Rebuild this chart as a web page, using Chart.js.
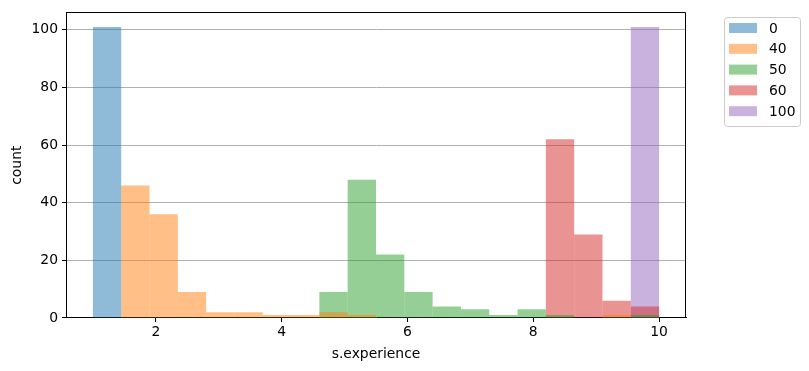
<!DOCTYPE html>
<html>
<head>
<meta charset="utf-8">
<script src="https://cdn.jsdelivr.net/npm/chart.js@4/dist/chart.umd.min.js"></script>
<style>
  body { margin: 0; background: #fff; }
  #wrap { width: 809px; height: 371px; }
</style>
</head>
<body>
<div id="wrap"><canvas id="histChart" width="809" height="371"></canvas></div>
<script>
// bin centres (20 bins of width 0.45 from 1 to 10)
const binCenters = [1.225,1.675,2.125,2.575,3.025,3.475,3.925,4.375,4.825,5.275,
                    5.725,6.175,6.625,7.075,7.525,7.975,8.425,8.875,9.325,9.775];
const seriesNames = ["0","40","50","60","100"];
const counts0   = [101,0,0,0,0,0,0,0,0,0,0,0,0,0,0,0,0,0,0,0];
const counts40  = [0,46,36,9,2,2,1,1,2,1,0,0,0,0,0,0,0,0,1,0];
const counts50  = [0,0,0,0,0,0,0,0,9,48,22,9,4,3,1,3,1,0,0,1];
const counts60  = [0,0,0,0,0,0,0,0,0,0,0,0,0,0,0,0,62,29,6,4];
const counts100 = [0,0,0,0,0,0,0,0,0,0,0,0,0,0,0,0,0,0,0,101];
const xTicks = [2,4,6,8,10];
const yTicks = [0,20,40,60,80,100];
const colors = ["rgba(31,119,180,0.5)","rgba(255,127,14,0.5)","rgba(44,160,44,0.5)",
                "rgba(214,39,40,0.5)","rgba(148,103,189,0.5)"];

const allCounts = [counts0, counts40, counts50, counts60, counts100];
const FONT = "DejaVu Sans";

const datasets = allCounts.map((c, i) => ({
  label: seriesNames[i],
  data: binCenters.map((x, j) => ({ x: x, y: c[j] })),
  backgroundColor: colors[i],
  borderWidth: 0,
  inflateAmount: 0,
  grouped: false,
  barPercentage: 1,
  categoryPercentage: 1
}));

const frameLegend = {
  id: "frameLegend",
  afterDraw(chart) {
    const ctx = chart.ctx, a = chart.chartArea;
    ctx.save();
    ctx.strokeStyle = "#000";
    ctx.lineWidth = 1;
    ctx.beginPath();
    ctx.moveTo(Math.round(a.left) + 0.5, Math.round(a.top) + 0.5);
    ctx.lineTo(Math.round(a.right) - 0.5, Math.round(a.top) + 0.5);
    ctx.lineTo(Math.round(a.right) - 0.5, Math.round(a.bottom));
    ctx.stroke();
    // legend box
    const lx = 724, ly = 17, lw = 76, lh = 109, r = 3;
    ctx.fillStyle = "rgba(255,255,255,0.8)";
    ctx.strokeStyle = "#cccccc";
    ctx.beginPath();
    ctx.roundRect(lx + 0.5, ly + 0.5, lw, lh, r);
    ctx.fill();
    ctx.stroke();
    ctx.font = "13.9px " + FONT;
    ctx.textBaseline = "middle";
    ctx.textAlign = "left";
    seriesNames.forEach((n, i) => {
      const cy = 28 + i * 20.8;
      ctx.fillStyle = colors[i];
      ctx.fillRect(729, cy - 5, 28, 10);
      ctx.fillStyle = "#000";
      ctx.fillText(n, 769, cy + 1);
    });
    ctx.restore();
  }
};

new Chart("histChart", {
  type: "bar",
  data: { datasets: datasets },
  options: {
    responsive: false,
    animation: false,
    layout: { padding: { top: 10, right: 123, left: 0, bottom: 0 } },
    plugins: { legend: { display: false }, tooltip: { enabled: false } },
    scales: {
      x: {
        type: "linear",
        min: 0.5725,
        max: 10.4275,
        offset: false,
        grid: { drawOnChartArea: false, offset: false, tickColor: "#000", tickLength: 4 },
        border: { color: "#000" },
        ticks: { color: "#000", font: { family: FONT, size: 13.9 }, padding: 2 },
        title: { display: true, text: "s.experience", color: "#000",
                 font: { family: FONT, size: 13.9 }, padding: { top: 2, bottom: 8 } },
        afterBuildTicks: s => { s.ticks = xTicks.map(v => ({ value: v })); },
        afterFit: s => { s.height = 53; }
      },
      y: {
        min: 0,
        max: 106.05,
        grid: { color: "#b0b0b0", tickColor: "#000", tickLength: 4 },
        border: { color: "#000" },
        ticks: { color: "#000", font: { family: FONT, size: 13.9 }, padding: 4 },
        title: { display: true, text: "count", color: "#000",
                 font: { family: FONT, size: 13.9 }, padding: { top: 9, bottom: 4 } },
        afterBuildTicks: s => { s.ticks = yTicks.map(v => ({ value: v })); },
        afterFit: s => { s.width = 66; }
      }
    }
  },
  plugins: [frameLegend]
});
</script>
</body>
</html>
